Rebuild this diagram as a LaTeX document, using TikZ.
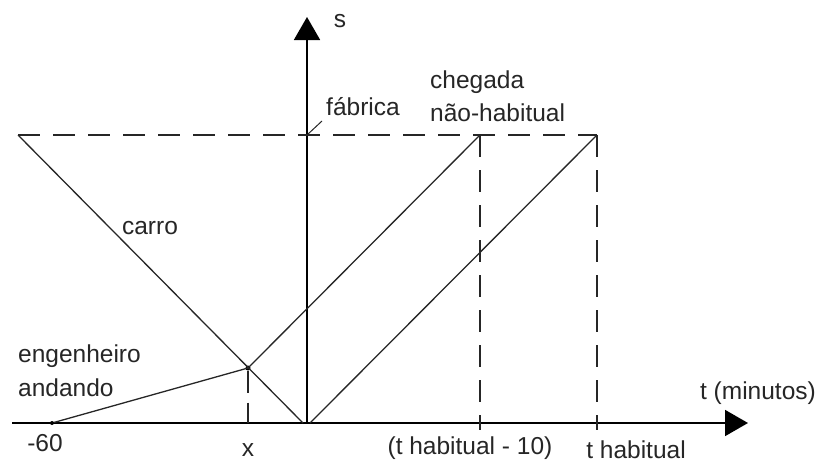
\documentclass[tikz,border=0pt]{standalone}
\usepackage{fontspec}
\setmainfont{Liberation Sans}
\usetikzlibrary{arrows.meta}
\begin{document}
\begin{tikzpicture}[x=1pt,y=-1pt,
  axis/.style={line width=1.8pt,-{Triangle[length=23pt,width=26pt]}},
  solidline/.style={line width=1.3pt,draw=black!85},
  dashline/.style={line width=1.6pt,draw=black!85,dash pattern=on 22pt off 13pt},
  lbl/.style={font=\fontsize{24.5}{27}\selectfont,text=black!85,inner sep=0pt},
  dotmark/.style={circle,fill=black,inner sep=0pt,minimum size=5pt}]
\useasboundingbox (0,0) rectangle (818,463);
% key points
\coordinate (O) at (307,423);
\coordinate (Xend) at (748,423);
\coordinate (Xstart) at (12,423);
\coordinate (Yend) at (307,17);
\coordinate (CarTop) at (18,135);
\coordinate (CarBot) at (303,423);
\coordinate (P60) at (52,423);
\node[dotmark] (I) at (248,368) {};
\coordinate (Ix) at (248,423);
\coordinate (A1) at (480,135);
\coordinate (A1b) at (480,430);
\coordinate (A2) at (597,135);
\coordinate (A2b) at (597,430);
\coordinate (S2) at (310,423);
\coordinate (F) at (307,135);
\coordinate (Fl) at (322,121);
% axes
\draw[axis] (Xstart) -- (Xend);
\draw[axis] (O) -- (Yend);
% dashed
\draw[dashline] (CarTop) -- (A2);
\draw[dashline] (A1) -- (A1b);
\draw[dashline] (A2) -- (A2b);
\draw[dashline,dash pattern=on 22pt off 10pt] (I) -- (Ix);
% solid lines
\draw[solidline] (CarTop) -- (CarBot);
\draw[solidline] (P60) -- (I.center);
\draw[solidline] (I.center) -- (A1);
\draw[solidline] (S2) -- (A2);
\draw[solidline,line width=1pt] (F) -- (Fl);
\fill (P60) circle (2pt);
% labels
\node[lbl] (ls) at (340,21) {s};
\node[lbl,anchor=west] (lfab) at (326,107) {fábrica};
\node[lbl,anchor=west] (lcheg) at (430,82) {chegada};
\node[lbl,anchor=west] (lnao) at (430,113) {não-habitual};
\node[lbl] (lcarro) at (150,228) {carro};
\node[lbl,anchor=west] (leng) at (18,356) {engenheiro};
\node[lbl,anchor=west] (land) at (18,388) {andando};
\node[lbl] (l60) at (45,443) {-60};
\node[lbl] (lx) at (248,450) {x};
\node[lbl] (lth10) at (470,448) {(t habitual - 10)};
\node[lbl] (lth) at (636,450) {t habitual};
\node[lbl,anchor=east] (lt) at (816,393) {t (minutos)};
\end{tikzpicture}
\end{document}
